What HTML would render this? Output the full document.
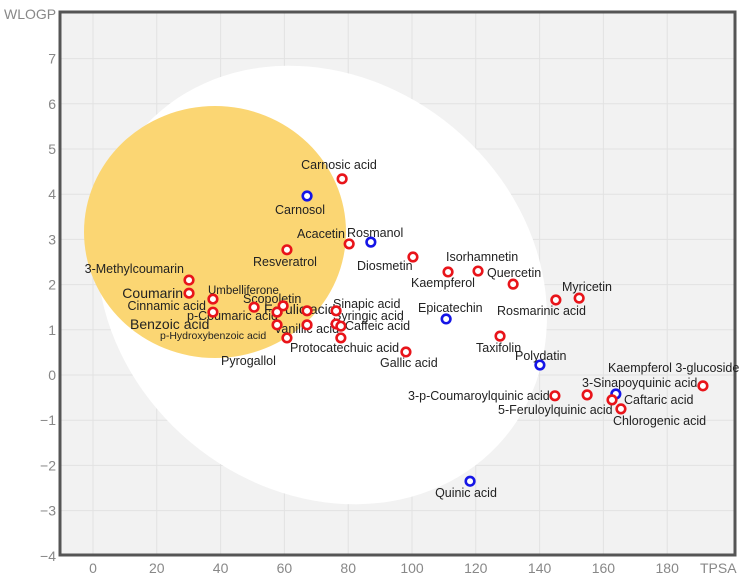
<!DOCTYPE html>
<html><head><meta charset="utf-8"><style>
html,body{margin:0;padding:0;background:#fff;}
svg{display:block;font-family:"Liberation Sans",sans-serif;}
.lbl{font-family:"Liberation Sans",sans-serif;fill:#222;}
.tick{font-size:14px;fill:#888;}
</style></head><body>
<svg id="chart" width="756" height="580" viewBox="0 0 756 580">
<rect x="0" y="0" width="756" height="580" fill="#fff"/>
<g id="plot"></g>
</svg>
<script>
const tpsa = [78.1,67.1,80.3,87.1,60.8,30.1,30.1,37.6,37.6,50.5,59.6,57.7,67.1,76.2,57.7,67.1,76.2,77.7,60.8,77.7,98.1,100.3,111.3,120.7,131.7,145.1,152.4,110.7,127.6,140.1,144.8,154.9,163.9,162.7,165.5,191.2,118.2];
const wlogp = [4.34,3.96,2.90,2.94,2.77,2.10,1.81,1.68,1.39,1.50,1.53,1.39,1.42,1.42,1.11,1.11,1.13,1.08,0.82,0.82,0.51,2.61,2.28,2.30,2.01,1.66,1.70,1.24,0.86,0.22,-0.46,-0.44,-0.42,-0.55,-0.75,-0.24,-2.35];
const pgpSubstrate = [0,1,0,1,0,0,0,0,0,0,0,0,0,0,0,0,0,0,0,0,0,0,0,0,0,0,0,1,0,1,0,0,1,0,0,0,1];
const xTicks = [0,20,40,60,80,100,120,140,160,180];
const yTicks = [-4,-3,-2,-1,0,1,2,3,4,5,6,7];
const labels = [
 ["Carnosic acid",339,169,"middle",12.5],["Carnosol",300,214,"middle",12.5],["Acacetin",345,238,"end",12.5],
 ["Rosmanol",347,237,"start",12.5],["Resveratrol",285,266,"middle",12.5],["3-Methylcoumarin",184,273,"end",12.5],
 ["Coumarin",183,298,"end",14],["Umbelliferone",208,294,"start",11.5],["Scopoletin",243,303,"start",12.5],
 ["Cinnamic acid",206,310,"end",12.5],["Ferulic acid",264,314,"start",14],["p-Coumaric acid",187,320,"start",12.5],
 ["Sinapic acid",333,308,"start",12.5],["Syringic acid",333,320,"start",12.5],["Benzoic acid",130,329,"start",14],
 ["Vanillic acid",274,333,"start",12.5],["Caffeic acid",345,330,"start",12.5],["p-Hydroxybenzoic acid",160,339,"start",10.5],
 ["Protocatechuic acid",290,352,"start",12.5],["Pyrogallol",221,365,"start",12.5],["Gallic acid",380,367,"start",12.5],
 ["Diosmetin",357,270,"start",12.5],["Kaempferol",411,287,"start",12.5],["Isorhamnetin",446,261,"start",12.5],
 ["Quercetin",487,277,"start",12.5],["Myricetin",562,291,"start",12.5],["Rosmarinic acid",497,315,"start",12.5],
 ["Epicatechin",418,312,"start",12.5],["Taxifolin",476,352,"start",12.5],["Polydatin",515,360,"start",12.5],
 ["Kaempferol 3-glucoside",608,372,"start",12.5],["3-Sinapoyquinic acid",582,387,"start",12.5],
 ["3-p-Coumaroylquinic acid",408,400,"start",12.5],["Caftaric acid",624,404,"start",12.5],
 ["5-Feruloylquinic acid",498,414,"start",12.5],["Chlorogenic acid",613,425,"start",12.5],["Quinic acid",466,497,"middle",12.5]
];
const NS="http://www.w3.org/2000/svg";
const X0=60,X1=735,Y0=12,Y1=555;
function sx(v){return 93+3.19*v;}
function sy(v){return 375-45.2*v;}
const g=document.getElementById('plot');
function mk(t,a,parent){const e=document.createElementNS(NS,t);for(const k in a)e.setAttribute(k,a[k]);(parent||g).appendChild(e);return e;}
let e;
e=mk('rect',{x:X0,y:Y0,width:X1-X0,height:Y1-Y0,fill:'#f2f2f2'});


for(const t of xTicks){e=mk('line',{x1:sx(t),x2:sx(t),y1:Y0,y2:Y1,stroke:'#e2e2e2','stroke-width':1});

}
for(const t of yTicks){e=mk('line',{x1:X0,x2:X1,y1:sy(t),y2:sy(t),stroke:'#e2e2e2','stroke-width':1});

}
e=mk('ellipse',{cx:322,cy:285,rx:238,ry:205,fill:'#ffffff',transform:'rotate(40 322 285)'});


e=mk('ellipse',{cx:215,cy:232,rx:131,ry:126,fill:'#fbd673'});


e=mk('rect',{x:X0,y:Y0,width:X1-X0,height:Y1-Y0,fill:'none',stroke:'#555','stroke-width':3});


for(const t of xTicks){e=mk('text',{x:sx(t),y:573,'text-anchor':'middle',class:'tick'});e.textContent=t;

}
for(const t of yTicks){e=mk('text',{x:56,y:sy(t)+5,'text-anchor':'end',class:'tick'});e.textContent=String(t).replace('-','\u2212');

}
e=mk('text',{x:4,y:19,class:'tick'});e.textContent='WLOGP';


e=mk('text',{x:700,y:573,class:'tick'});e.textContent='TPSA';


for(const l of labels){e=mk('text',{x:l[1],y:l[2],'text-anchor':l[3],class:'lbl','font-size':l[4]});e.textContent=l[0];

}
for(let i=0;i<tpsa.length;i++){
 e=mk('circle',{cx:sx(tpsa[i]),cy:sy(wlogp[i]),r:4.3,fill:'#fff',stroke:pgpSubstrate[i]?'#1515e6':'#e8141a','stroke-width':2.6});
 
 
}
</script>
</body></html>
